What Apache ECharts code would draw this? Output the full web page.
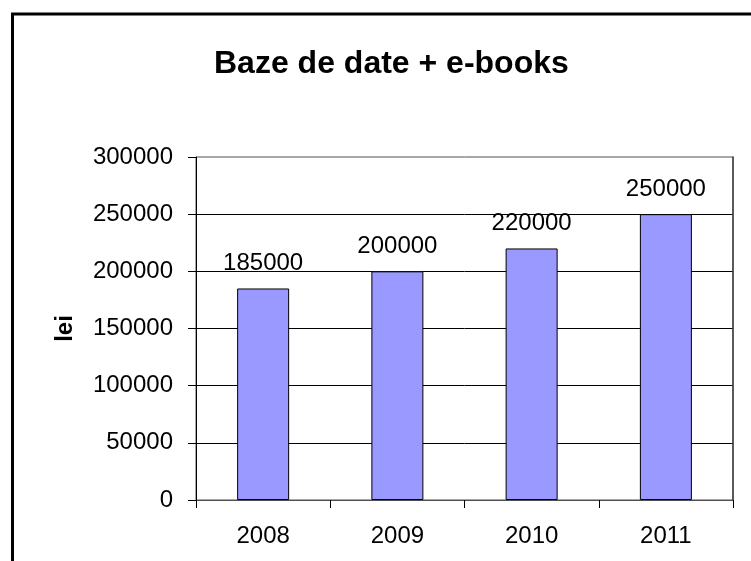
<!DOCTYPE html>
<html>
<head>
<meta charset="utf-8">
<script src="https://cdn.jsdelivr.net/npm/echarts@6/dist/echarts.min.js"></script>
<style>
html,body{margin:0;padding:0;background:#fff;}
#c{width:751px;height:561px;}
</style>
</head>
<body>
<div id="c"></div>
<script>
const categories = ['2008', '2009', '2010', '2011'];
const values = [185000, 200000, 220000, 250000];
const titleText = 'Baze de date + e-books';
const yName = 'lei';

const FONT = '"Liberation Sans", Arial, sans-serif';
const chart = echarts.init(document.getElementById('c'), null, {renderer: 'canvas'});
chart.setOption({
  animation: false,
  backgroundColor: '#fff',
  title: {
    text: titleText,
    left: 209,
    top: 43,
    textStyle: {fontFamily: FONT, fontSize: 32, fontWeight: 'bold', color: '#000'}
  },
  graphic: [{
    type: 'rect',
    shape: {x: 12.5, y: 14, width: 900, height: 900},
    style: {fill: null, stroke: '#000', lineWidth: 3},
    z: 100
  }],
  grid: {
    left: 196, top: 157, right: 18, bottom: 61,
    show: true, borderColor: '#505050', borderWidth: 1,
    containLabel: false,
    outerBoundsMode: 'none'
  },
  xAxis: [{
    type: 'category',
    data: categories,
    axisLine: {lineStyle: {color: '#000', width: 1}},
    axisTick: {show: true, alignWithLabel: false, length: 8, lineStyle: {color: '#000'}},
    axisLabel: {fontFamily: FONT, fontSize: 24, color: '#000', margin: 24},
    splitLine: {show: false}
  }, {
    type: 'category',
    data: categories,
    position: 'top',
    axisLine: {show: true, lineStyle: {color: '#505050', width: 1}},
    axisTick: {show: false},
    axisLabel: {show: false},
    splitLine: {show: false}
  }],
  yAxis: [{
    type: 'value',
    min: 0, max: 300000, interval: 50000,
    name: yName,
    nameLocation: 'middle',
    nameRotate: 90,
    nameGap: 119,
    nameTextStyle: {fontFamily: FONT, fontSize: 24, fontWeight: 'bold', color: '#000'},
    axisLine: {show: true, lineStyle: {color: '#000', width: 1}},
    axisTick: {show: true, length: 8, lineStyle: {color: '#000'}},
    axisLabel: {fontFamily: FONT, fontSize: 24, color: '#000', margin: 23,
      formatter: function (v) { return String(v); }},
    splitLine: {show: true, showMaxLine: false, lineStyle: {color: '#000', width: 1}}
  }, {
    type: 'value',
    position: 'right',
    min: 0, max: 300000, interval: 50000,
    axisLine: {show: true, onZero: false, lineStyle: {color: '#404040', width: 1.5}},
    axisTick: {show: false},
    axisLabel: {show: false},
    splitLine: {show: false}
  }],
  series: [{
    type: 'bar',
    data: values,
    barWidth: 52,
    itemStyle: {color: '#9999FF', borderColor: '#000', borderWidth: 1},
    label: {
      show: true, position: 'top', distance: 13,
      fontFamily: FONT, fontSize: 24, color: '#000'
    }
  }]
});
</script>
</body>
</html>
